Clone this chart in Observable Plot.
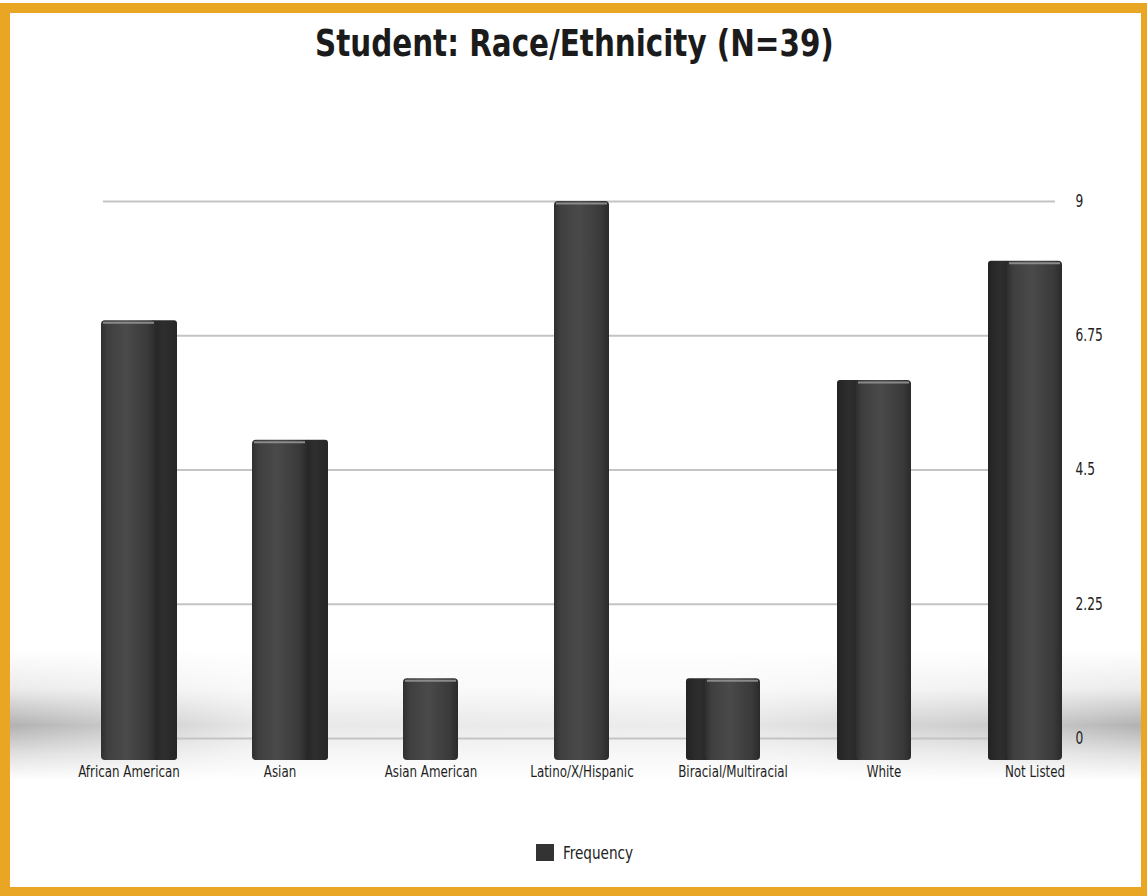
<!DOCTYPE html>
<html>
<head>
<meta charset="utf-8">
<script src="https://cdn.jsdelivr.net/npm/d3@7"></script>
<script src="https://cdn.jsdelivr.net/npm/@observablehq/plot@0.6"></script>
<style>
  html, body { margin: 0; padding: 0; background: #fff; }
  #page { position: relative; width: 1147px; height: 896px; overflow: hidden; background: #fff; }
  #frame { position: absolute; left: 0; top: 3px; width: 1147px; height: 893px; box-sizing: border-box;
           border-style: solid; border-color: #e8a624; border-width: 10px 6px 9px 10px; pointer-events: none; z-index: 5; }
  #title { position: absolute; left: 0; right: 0; top: 21px; text-align: center;
           font-family: "DejaVu Sans Condensed", "DejaVu Sans", sans-serif; font-weight: bold;
           font-size: 38px; color: #1b1b1b; transform: scaleX(0.86); transform-origin: 580px 0; }
  #floor { position: absolute; left: 10px; right: 6px; top: 650px; height: 130px;
           background:
             linear-gradient(to right, rgba(255,255,255,0) 0%, rgba(255,255,255,0.7) 22%, rgba(255,255,255,0.75) 60%, rgba(255,255,255,0.25) 92%, rgba(255,255,255,0) 100%),
             linear-gradient(to bottom, rgba(0,0,0,0) 0%, rgba(0,0,0,0.08) 30%, rgba(0,0,0,0.3) 58%, rgba(0,0,0,0.12) 80%, rgba(0,0,0,0) 100%); }
  #chart { position: absolute; left: 0; top: 100px; }
  #legend { position: absolute; left: 536px; top: 842px; display: flex; align-items: center;
            font-family: "DejaVu Sans Condensed", "DejaVu Sans", sans-serif; font-size: 18px; color: #222; }
  #legend .sw { width: 18px; height: 17px; background: #333; margin-right: 9px; }
  #legend .txt { display: inline-block; transform: scaleX(0.84); transform-origin: 0 50%; }
</style>
</head>
<body>
<div id="page">
  <div id="title">Student: Race/Ethnicity (N=39)</div>
  <div id="floor"></div>
  <div id="chart"></div>
  <div id="legend"><span class="sw"></span><span class="txt">Frequency</span></div>
  <div id="frame"></div>
</div>
<script>
// Student responses by race/ethnicity (counts)
const categories = ["African American", "Asian", "Asian American", "Latino/X/Hispanic", "Biracial/Multiracial", "White", "Not Listed"];
const frequency = [7, 5, 1, 9, 1, 6, 8];
const yTicks = [0, 2.25, 4.5, 6.75, 9];

const rows = categories.map((c, i) => ({category: c, value: frequency[i]}));

// bars on the left show their right side face, bars on the right their left side face
const leftSide = new Set(["African American", "Asian"]);
const rightSide = new Set(["Biracial/Multiracial", "White", "Not Listed"]);

const labelFont = "DejaVu Sans Condensed, DejaVu Sans, sans-serif";

const chart = Plot.plot({
  width: 1147,
  height: 700,
  marginTop: 101,
  marginBottom: 62,
  marginLeft: 103,
  marginRight: 92,
  style: {background: "transparent", overflow: "visible"},
  x: {domain: categories, range: [52.5, 1109.5], padding: 0, label: null},
  y: {domain: [0, 9], label: null},
  marks: [
    Plot.ruleY(yTicks, {stroke: "#c4c4c4", strokeWidth: 2}),
    // side faces
    Plot.barY(rows.filter(d => leftSide.has(d.category)), {
      x: "category", y: "value", fill: "url(#sideGrad)", insetLeft: 98, insetRight: 27, insetBottom: -22, rx: 3
    }),
    Plot.barY(rows.filter(d => rightSide.has(d.category)), {
      x: "category", y: "value", fill: "url(#sideGrad)", insetLeft: 29, insetRight: 98, insetBottom: -22, rx: 3
    }),
    // front faces
    Plot.barY(rows, {
      x: "category", y: "value", fill: "url(#frontGrad)", insetLeft: 48, insetRight: 48, insetBottom: -22, rx: 4
    }),
    // highlight along the top edge
    Plot.tickY(rows, {
      x: "category", y: "value", stroke: "#8a8a8a", strokeWidth: 2, insetLeft: 50, insetRight: 50, dy: 2
    }),
    Plot.axisY(yTicks, {
      anchor: "right", tickSize: 0, tickPadding: 0, dx: 20,
      tickFormat: d => String(d),
      fontFamily: labelFont, fontSize: 17, fill: "#222"
    }),
    Plot.axisX({
      tickSize: 0, tickPadding: 0, dy: 27,
      fontFamily: labelFont, fontSize: 16.5, fill: "#1e1e1e"
    })
  ]
});

// gradients for the shaded bar faces
const ns = "http://www.w3.org/2000/svg";
const defs = document.createElementNS(ns, "defs");
defs.innerHTML = `
  <linearGradient id="frontGrad" x1="0" x2="1" y1="0" y2="0">
    <stop offset="0" stop-color="#2f2f2f"/>
    <stop offset="0.12" stop-color="#3f3f3f"/>
    <stop offset="0.45" stop-color="#4a4a4a"/>
    <stop offset="0.85" stop-color="#3a3a3a"/>
    <stop offset="1" stop-color="#2a2a2a"/>
  </linearGradient>
  <linearGradient id="sideGrad" x1="0" x2="1" y1="0" y2="0">
    <stop offset="0" stop-color="#232323"/>
    <stop offset="0.5" stop-color="#2e2e2e"/>
    <stop offset="1" stop-color="#262626"/>
  </linearGradient>`;
chart.insertBefore(defs, chart.firstChild);

// narrow the axis label glyphs horizontally for a condensed face
chart.querySelectorAll("[aria-label='x-axis tick label'] text, [aria-label='y-axis tick label'] text")
  .forEach(t => {
    const tr = t.getAttribute("transform") || "";
    t.setAttribute("transform", tr + " scale(0.8,1)");
  });

document.getElementById("chart").appendChild(chart);
</script>
</body>
</html>
